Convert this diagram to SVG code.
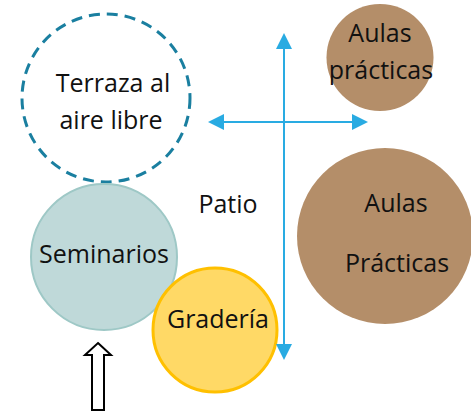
<svg xmlns="http://www.w3.org/2000/svg" width="471" height="411" viewBox="0 0 471 411">
<defs>
<style>
text{font-family:"Open Sans","Noto Sans",sans-serif;font-size:25px;fill:#111;text-anchor:middle}
.conn{stroke:#29abe2;stroke-width:2;fill:none}
</style>
<marker id="ah" markerWidth="8" markerHeight="8" refX="7" refY="4" orient="auto" markerUnits="strokeWidth">
<path d="M0,0 L8,4 L0,8 Z" fill="#29abe2"/>
</marker>
</defs>
<rect width="471" height="411" fill="#fff"/>
<g id="terraza">
<circle cx="106" cy="98" r="84" fill="#fff" stroke="#1a7fa0" stroke-width="3" stroke-dasharray="11 7"/>
<text x="113" y="92">Terraza al</text>
<text x="111" y="129">aire libre</text>
</g>
<g id="aulas-small">
<circle cx="380" cy="57.5" r="53.5" fill="#b48e69"/>
<text x="380" y="42">Aulas</text>
<text x="381" y="79">prácticas</text>
</g>
<g id="aulas-large">
<circle cx="385" cy="236" r="88" fill="#b48e69"/>
<text x="396" y="212">Aulas</text>
<text x="397" y="272">Prácticas</text>
</g>
<g id="seminarios">
<circle cx="104" cy="257" r="73" fill="#bfd9d9" stroke="#9ec8c6" stroke-width="2"/>
<text x="104" y="263">Seminarios</text>
</g>
<g id="graderia">
<circle cx="215" cy="330" r="62" fill="#ffd966" stroke="#ffc000" stroke-width="3"/>
<text x="218" y="328">Gradería</text>
</g>
<g id="patio">
<text x="228" y="213">Patio</text>
</g>
<g id="connectors">
<line class="conn" x1="284" y1="122" x2="210" y2="122" marker-end="url(#ah)"/>
<line class="conn" x1="284" y1="122" x2="366" y2="122" marker-end="url(#ah)"/>
<line class="conn" x1="284" y1="200" x2="284" y2="35" marker-end="url(#ah)"/>
<line class="conn" x1="284" y1="200" x2="284" y2="358" marker-end="url(#ah)"/>
</g>
<g id="entrada">
<path d="M98,343 L111,355 L104,355 L104,410 L92,410 L92,355 L85,355 Z" fill="#fff" stroke="#000" stroke-width="2" stroke-linejoin="miter"/>
</g>
</svg>
